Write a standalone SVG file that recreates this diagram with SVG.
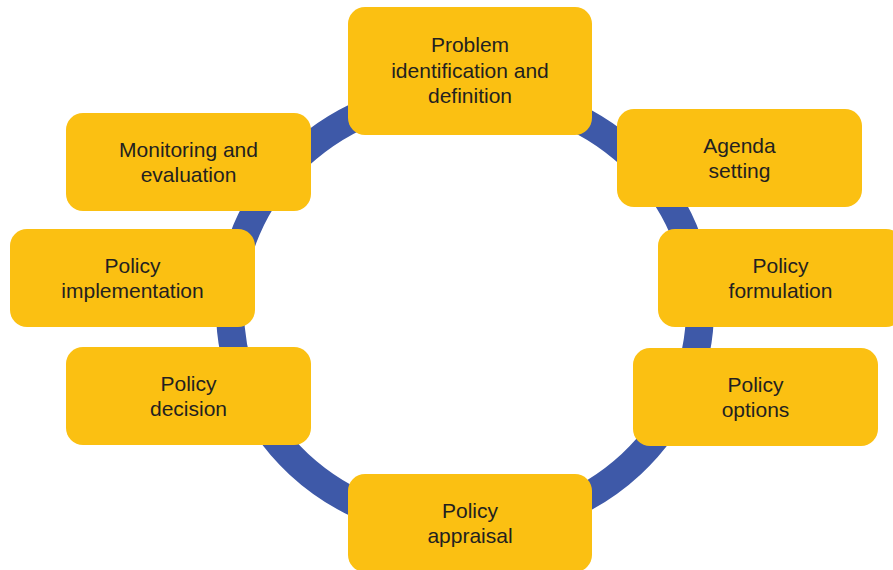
<svg xmlns="http://www.w3.org/2000/svg" width="893" height="570" viewBox="0 0 893 570">
  <style>
    .stage rect { fill: #FBC012; }
    .stage text { font-family: "Liberation Sans", Arial, Helvetica, sans-serif; font-size: 21px; fill: #231F20; text-anchor: middle; }
    .ring { fill: none; stroke: #3E59A8; stroke-width: 28; }
  </style>
  <rect width="893" height="570" fill="#FFFFFF"/>

  <!-- policy cycle ring -->
  <g id="connectors">
    <ellipse class="ring" cx="465" cy="310" rx="235" ry="218"/>
  </g>

  <g id="problem" class="stage">
    <rect x="348" y="7" width="244" height="128" rx="17"/>
    <text x="470" y="52">Problem</text>
    <text x="470" y="77.5">identification and</text>
    <text x="470" y="103">definition</text>
  </g>

  <g id="agenda" class="stage">
    <rect x="617" y="109" width="245" height="98" rx="17"/>
    <text x="739.5" y="153">Agenda</text>
    <text x="739.5" y="178">setting</text>
  </g>

  <g id="formulation" class="stage">
    <rect x="658" y="229" width="245" height="98" rx="17"/>
    <text x="780.5" y="273">Policy</text>
    <text x="780.5" y="298">formulation</text>
  </g>

  <g id="options" class="stage">
    <rect x="633" y="348" width="245" height="98" rx="17"/>
    <text x="755.5" y="392">Policy</text>
    <text x="755.5" y="417">options</text>
  </g>

  <g id="appraisal" class="stage">
    <rect x="348" y="474" width="244" height="98" rx="17"/>
    <text x="470" y="518">Policy</text>
    <text x="470" y="543">appraisal</text>
  </g>

  <g id="decision" class="stage">
    <rect x="66" y="347" width="245" height="98" rx="17"/>
    <text x="188.5" y="391">Policy</text>
    <text x="188.5" y="416">decision</text>
  </g>

  <g id="implementation" class="stage">
    <rect x="10" y="229" width="245" height="98" rx="17"/>
    <text x="132.5" y="273">Policy</text>
    <text x="132.5" y="298">implementation</text>
  </g>

  <g id="monitoring" class="stage">
    <rect x="66" y="113" width="245" height="98" rx="17"/>
    <text x="188.5" y="157">Monitoring and</text>
    <text x="188.5" y="182">evaluation</text>
  </g>
</svg>
